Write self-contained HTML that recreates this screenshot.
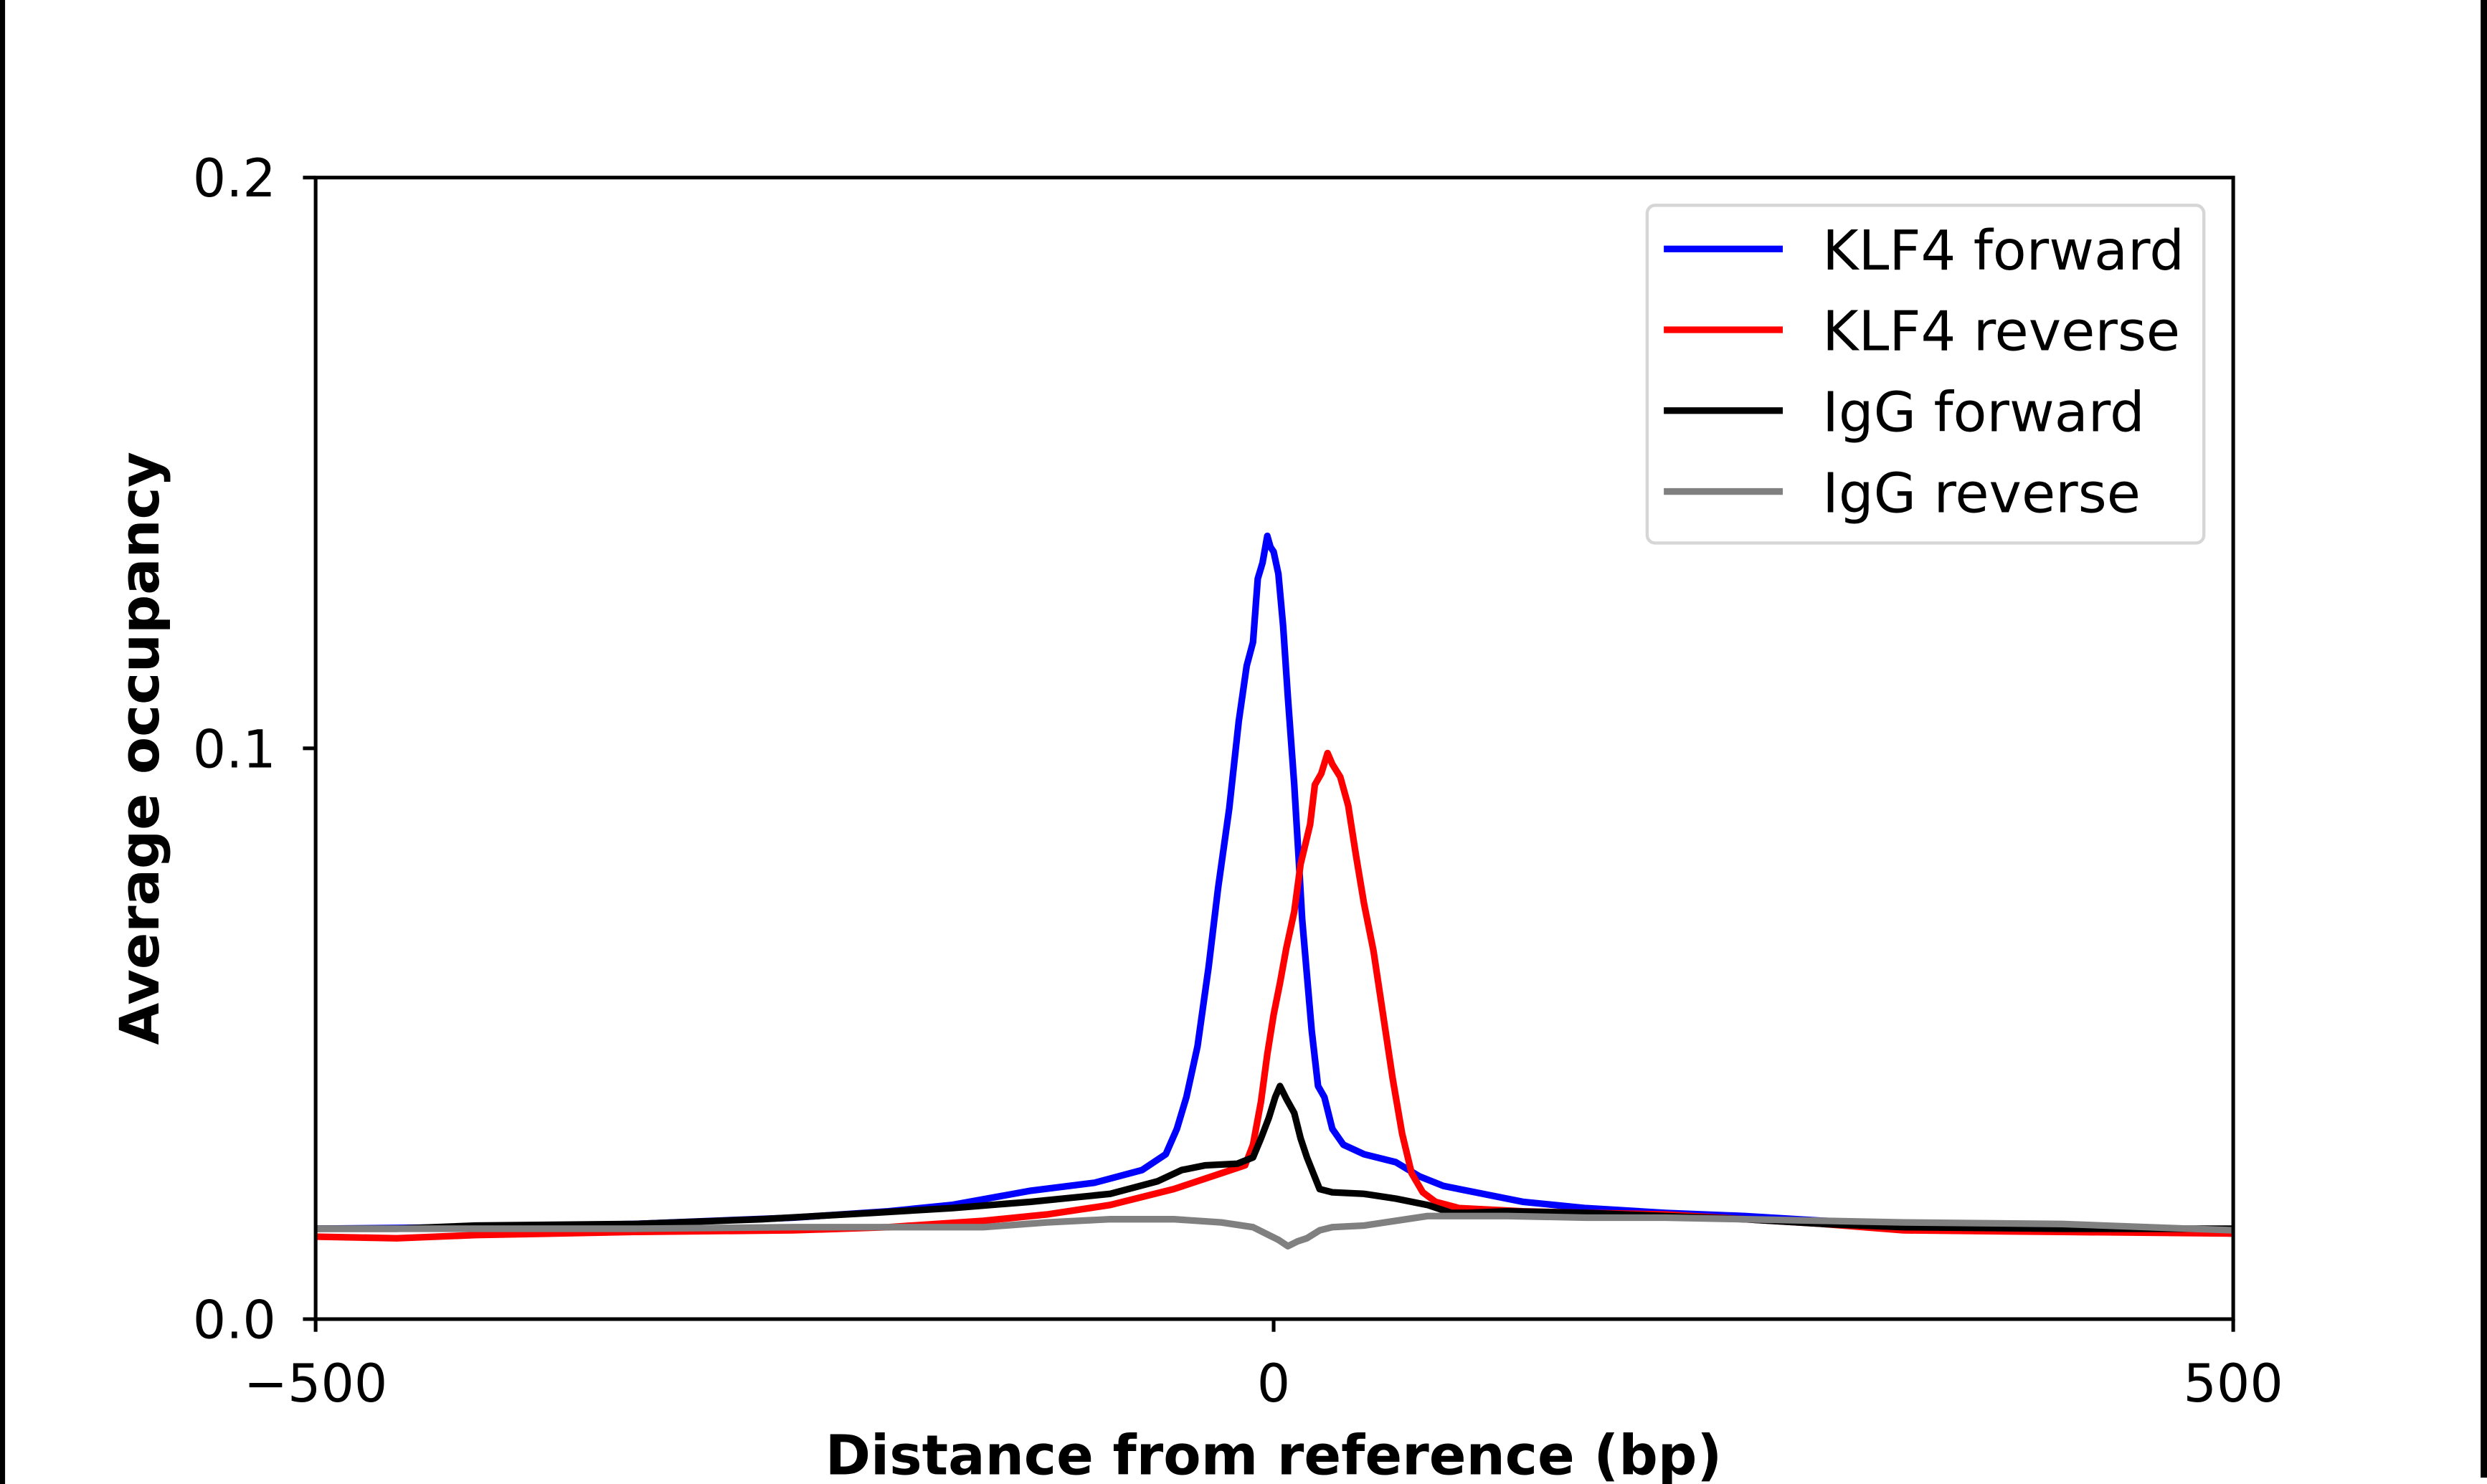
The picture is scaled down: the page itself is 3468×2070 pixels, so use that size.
<!DOCTYPE html>
<html><head><meta charset="utf-8"><style>
html,body{margin:0;padding:0;background:#fff;}
svg{display:block;}
text{font-family:"DejaVu Sans","Liberation Sans",sans-serif;}
</style></head><body>
<svg width="3468" height="2070" viewBox="0 0 1568 936" preserveAspectRatio="none" xmlns="http://www.w3.org/2000/svg">
<rect x="0" y="0" width="1568" height="936" fill="#fff"/>
<rect x="0" y="0" width="3.2" height="936" fill="#000"/>
<rect x="1564" y="0" width="4" height="932" fill="#000"/>
<g fill="none" stroke-linejoin="round" stroke-width="4.2">
<polyline stroke="#0000ff" points="199,775 300,774 400,772 500,768 560,764 600,760 650,751 690,746 720,738 735,728 742,712 748,692 755,660 762,610 768,560 775,510 781,455 786,420 790,405 793,365 796,355 799,338 801,345 803,348 806,362 809,395 812,440 816,495 819,545 821,580 824,615 827,650 831,685 835,692 840,712 847,722 860,728 880,733 895,742 910,748 930,752 960,758 1000,762 1050,765 1100,767 1150,770 1200,772 1300,775 1408,778"/>
<polyline stroke="#ff0000" points="199,780 250,781 300,779 400,777 500,776 560,774 620,770 660,766 700,760 740,750 770,740 785,735 790,722 795,695 799,665 803,640 807,620 811,598 816,575 820,545 826,520 829,495 833,488 837,475 840,482 845,490 850,508 855,540 860,570 866,600 872,640 878,680 884,715 890,740 897,752 905,758 920,762 960,764 1000,765 1050,766 1100,769 1150,772 1200,776 1300,777 1408,778"/>
<polyline stroke="#000000" points="199,775 250,775 300,773 400,772 480,769 550,765 600,762 650,758 700,753 730,745 745,738 760,735 780,734 790,730 795,718 800,705 804,692 807,685 811,693 816,702 820,718 824,730 828,740 832,750 840,752 860,753 880,756 900,760 915,765 925,765 950,764 1000,765 1050,767 1100,769 1150,772 1200,774 1300,775 1408,775"/>
<polyline stroke="#808080" points="199,775 300,775 400,775 500,774 560,774 620,774 660,771 700,769 740,769 770,771 790,774 800,779 806,782 812,786 818,783 824,781 832,776 840,774 860,773 880,770 900,767 950,767 1000,768 1050,768 1100,769 1150,770 1200,771 1300,772 1408,776"/>
</g>
<rect x="199" y="112" width="1209" height="720" fill="none" stroke="#000" stroke-width="2.3"/>
<g stroke="#000" stroke-width="2.3">
<line x1="191" y1="112" x2="199" y2="112"/>
<line x1="191" y1="472" x2="199" y2="472"/>
<line x1="191" y1="832" x2="199" y2="832"/>
<line x1="199" y1="832" x2="199" y2="840"/>
<line x1="803" y1="832" x2="803" y2="840"/>
<line x1="1408" y1="832" x2="1408" y2="840"/>
</g>
<g font-size="33" fill="#000">
<text x="174" y="124" text-anchor="end">0.2</text>
<text x="174" y="484" text-anchor="end">0.1</text>
<text x="174" y="844" text-anchor="end">0.0</text>
<text x="199" y="884" text-anchor="middle">−500</text>
<text x="803" y="884" text-anchor="middle">0</text>
<text x="1408" y="884" text-anchor="middle">500</text>
</g>
<text x="803" y="930" text-anchor="middle" font-size="34.5" font-weight="bold">Distance from reference (bp)</text>
<text transform="translate(100,472) rotate(-90)" text-anchor="middle" font-size="34.3" font-weight="bold">Average occupancy</text>
<rect x="1038.5" y="129.5" width="351" height="213" rx="5" fill="#fff" stroke="#d6d6d6" stroke-width="2"/>
<g stroke-width="4.2">
<line x1="1049" y1="157" x2="1124" y2="157" stroke="#0000ff"/>
<line x1="1049" y1="208" x2="1124" y2="208" stroke="#ff0000"/>
<line x1="1049" y1="259" x2="1124" y2="259" stroke="#000"/>
<line x1="1049" y1="310" x2="1124" y2="310" stroke="#808080"/>
</g>
<g font-size="34.7" fill="#000">
<text x="1149" y="170">KLF4 forward</text>
<text x="1149" y="221">KLF4 reverse</text>
<text x="1149" y="272">IgG forward</text>
<text x="1149" y="323">IgG reverse</text>
</g>
</svg>
</body></html>
